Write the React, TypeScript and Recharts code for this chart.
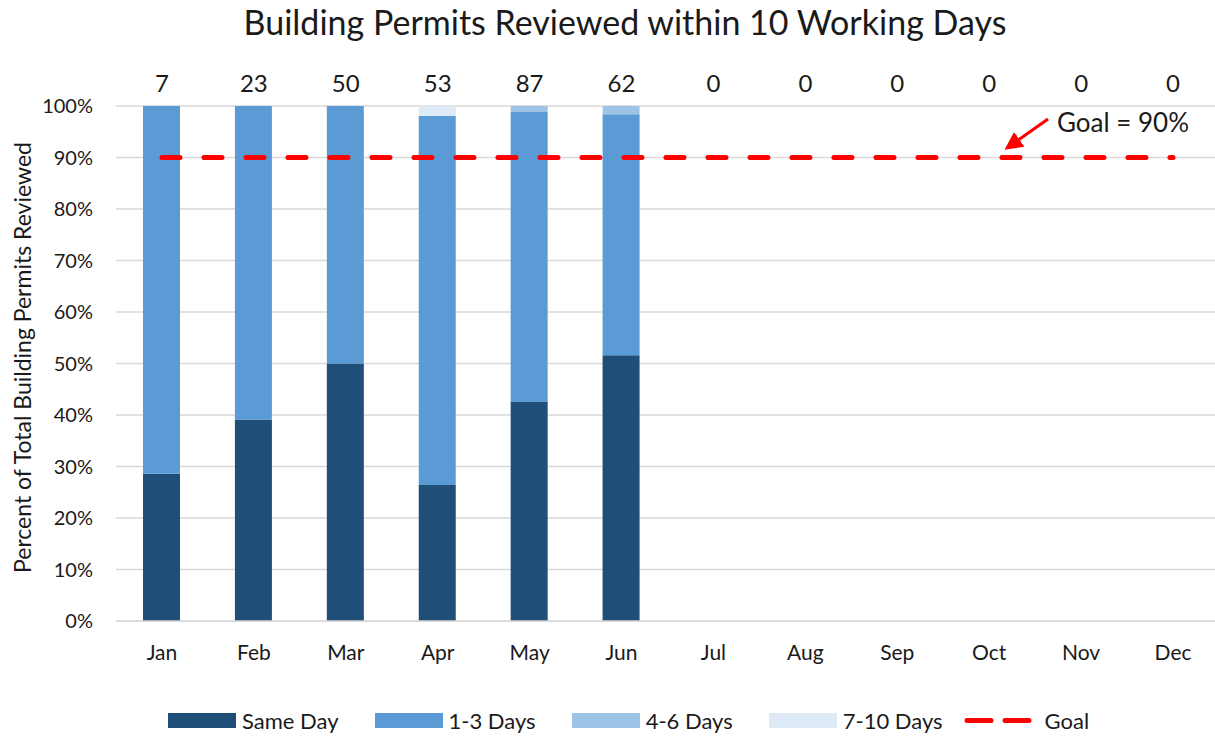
import React from 'react';
import { ComposedChart, Bar, Line, XAxis, YAxis, CartesianGrid } from 'recharts';

const months = ['Jan', 'Feb', 'Mar', 'Apr', 'May', 'Jun', 'Jul', 'Aug', 'Sep', 'Oct', 'Nov', 'Dec'];
const totals = [7, 23, 50, 53, 87, 62, 0, 0, 0, 0, 0, 0];
const sameDayCounts = [2, 9, 25, 14, 37, 32, 0, 0, 0, 0, 0, 0];
const oneToThreeCounts = [5, 14, 25, 38, 49, 29, 0, 0, 0, 0, 0, 0];
const fourToSixCounts = [0, 0, 0, 0, 1, 1, 0, 0, 0, 0, 0, 0];
const sevenToTenCounts = [0, 0, 0, 1, 0, 0, 0, 0, 0, 0, 0, 0];
const goalValue = 90;
const yTicks = [0, 10, 20, 30, 40, 50, 60, 70, 80, 90, 100];

const FONT = 'Lato, "Open Sans", sans-serif';
const COLORS = {
  sameDay: '#1f4e79',
  oneToThree: '#5b9bd5',
  fourToSix: '#9dc3e6',
  sevenToTen: '#deebf7',
  goal: '#ff0000',
};

const pct = (n: number, i: number) => (totals[i] ? (n / totals[i]) * 100 : 0);

const data = months.map((m, i) => ({
  month: m,
  total: totals[i],
  sameDay: pct(sameDayCounts[i], i),
  oneToThree: pct(oneToThreeCounts[i], i),
  fourToSix: pct(fourToSixCounts[i], i),
  sevenToTen: pct(sevenToTenCounts[i], i),
  goal: goalValue,
}));

const legendItems = [
  { label: 'Same Day', color: COLORS.sameDay, type: 'rect' },
  { label: '1-3 Days', color: COLORS.oneToThree, type: 'rect' },
  { label: '4-6 Days', color: COLORS.fourToSix, type: 'rect' },
  { label: '7-10 Days', color: COLORS.sevenToTen, type: 'rect' },
  { label: 'Goal', color: COLORS.goal, type: 'line' },
];

const YLabel = (props: any) => {
  const vb = props.viewBox || {};
  const cy = vb.y + vb.height / 2 - 6;
  return (
    <text
      x={22}
      y={cy}
      transform={`rotate(-90, 22, ${cy})`}
      textAnchor="middle"
      dominantBaseline="central"
      fontSize={23}
      fontFamily={FONT}
      fill="#1a1a1a"
    >
      Percent of Total Building Permits Reviewed
    </text>
  );
};

export default function App() {
  return (
    <div style={{ position: 'absolute', left: 0, top: 0, width: 1215, height: 736, overflow: 'hidden', background: '#fff', fontFamily: FONT }}>
      <div
        style={{
          position: 'absolute',
          top: 0,
          left: 0,
          width: 1250,
          textAlign: 'center',
          fontSize: 34,
          color: '#1a1a1a',
          lineHeight: '44px',
        }}
      >
        Building Permits Reviewed within 10 Working Days
      </div>
      <ComposedChart
        width={1219}
        height={736}
        data={data}
        margin={{ top: 60, right: 0, left: 0, bottom: 85 }}
        barSize={37}
      >
        <CartesianGrid vertical={false} stroke="#d9d9d9" strokeWidth={1.3} />
        <XAxis
          xAxisId="bottom"
          dataKey="month"
          orientation="bottom"
          height={30}
          tickLine={false}
          axisLine={{ stroke: '#d9d9d9', strokeWidth: 1.3 }}
          tick={{ fontSize: 21, fill: '#1a1a1a', fontFamily: FONT }}
          tickMargin={18}
          interval={0}
        />
        <XAxis
          xAxisId="top"
          dataKey="month"
          orientation="top"
          height={46}
          tickLine={false}
          axisLine={false}
          tick={{ fontSize: 24, fill: '#1a1a1a', fontFamily: FONT }}
          tickFormatter={(_v: any, i: number) => String(totals[i])}
          tickMargin={8}
          interval={0}
        />
        <YAxis
          width={116}
          domain={[0, 100]}
          ticks={yTicks}
          allowDataOverflow
          tickLine={false}
          axisLine={false}
          tickFormatter={(v: number) => `${v}%`}
          tick={{ fontSize: 20, fill: '#1a1a1a', fontFamily: FONT }}
          tickMargin={17}
          label={<YLabel />}
        />
        <Bar xAxisId="bottom" dataKey="sameDay" stackId="a" fill={COLORS.sameDay} isAnimationActive={false} />
        <Bar xAxisId="bottom" dataKey="oneToThree" stackId="a" fill={COLORS.oneToThree} isAnimationActive={false} />
        <Bar xAxisId="bottom" dataKey="fourToSix" stackId="a" fill={COLORS.fourToSix} isAnimationActive={false} />
        <Bar xAxisId="bottom" dataKey="sevenToTen" stackId="a" fill={COLORS.sevenToTen} isAnimationActive={false} />
        <Line
          xAxisId="bottom"
          dataKey="goal"
          stroke={COLORS.goal}
          strokeWidth={5}
          strokeDasharray="18 24"
          strokeLinecap="round"
          dot={false}
          activeDot={false}
          isAnimationActive={false}
        />
      </ComposedChart>
      <svg width={1215} height={736} style={{ position: 'absolute', left: 0, top: 0, pointerEvents: 'none' }}>
        <defs>
          <marker id="arrowHead" markerWidth="6" markerHeight="6" refX="5" refY="3" orient="auto" markerUnits="strokeWidth">
            <path d="M0,0 L6,3 L0,6 Z" fill={COLORS.goal} />
          </marker>
        </defs>
        <line x1={1048} y1={119} x2={1007} y2={148} stroke={COLORS.goal} strokeWidth={3} markerEnd="url(#arrowHead)" />
        <text x={1057} y={132} fontSize={26} fontFamily={FONT} fill="#1a1a1a">Goal = 90%</text>
      </svg>
      <div
        style={{
          position: 'absolute',
          top: 706,
          left: 168,
          height: 28,
          display: 'flex',
          alignItems: 'center',
          gap: 36,
          fontSize: 22,
          color: '#1a1a1a',
        }}
      >
        {legendItems.map((it) => (
          <div key={it.label} style={{ display: 'flex', alignItems: 'center', marginLeft: it.type === 'line' ? -17 : 0 }}>
            {it.type === 'rect' ? (
              <div style={{ width: 68, height: 15, background: it.color, marginRight: 6 }} />
            ) : (
              <svg width={74} height={15} style={{ marginRight: 9 }}>
                <line x1={5} y1={7.5} x2={69} y2={7.5} stroke={it.color} strokeWidth={5} strokeLinecap="round" strokeDasharray="24 14" />
              </svg>
            )}
            <span>{it.label}</span>
          </div>
        ))}
      </div>
    </div>
  );
}
